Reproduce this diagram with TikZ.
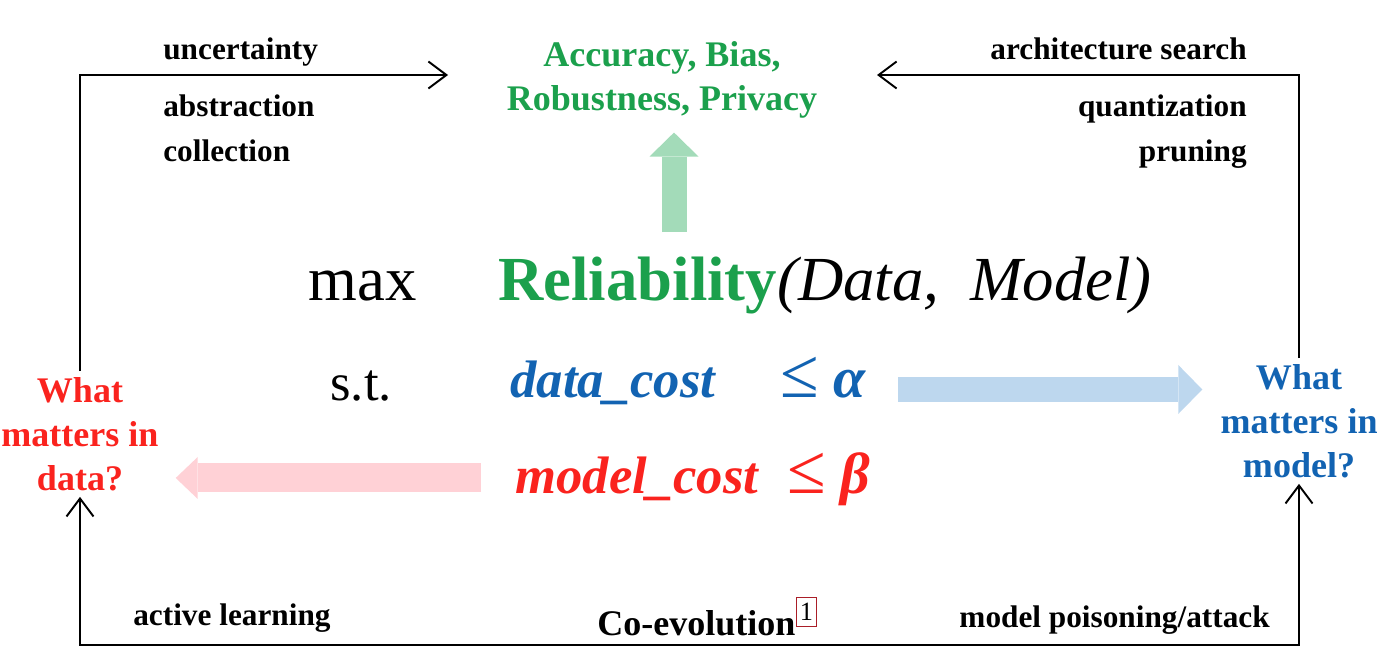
\documentclass[tikz,border=0pt]{standalone}
\usepackage{fontspec}
\setmainfont{Liberation Serif}
\usetikzlibrary{arrows.meta}
\usetikzlibrary{positioning}
\definecolor{relgreen}{RGB}{27,160,76}
\definecolor{costblue}{RGB}{18,99,178}
\definecolor{costred}{RGB}{250,35,30}
\definecolor{upgreen}{HTML}{A3DBB9}
\definecolor{rightblue}{HTML}{BDD7EE}
\definecolor{leftpink}{HTML}{FFD1D6}
\definecolor{refred}{RGB}{170,30,40}
\newcommand{\bigle}{{\fontsize{40}{40}\selectfont\upshape\mdseries ≤}}

\begin{document}
\begin{tikzpicture}[x=0.02cm,y=-0.02cm,
		lbl/.style={font=\fontsize{17.8}{21}\selectfont\bfseries,inner sep=0pt},
		ask/.style={font=\fontsize{20.5}{25}\selectfont\bfseries,align=center},
		obj/.style={font=\fontsize{35.7}{42}\selectfont,inner sep=0pt},
		cost/.style={font=\fontsize{30}{36}\selectfont\bfseries\itshape,inner sep=0pt},
		flow/.style={line width=1.1pt},
		fat/.style={line width=0.5cm,-{Triangle[length=0.48cm,width=0.98cm,line width=0pt]}},
		>={Straight Barb[length=0.36cm,width=0.54cm]}]
	\useasboundingbox (0,0) rectangle (1385,655);
	%% define labels
	\node[lbl,anchor=base west] (unc) at (163,60) {uncertainty};
	\node[lbl,anchor=base west] (abst) at (163,117) {abstraction};
	\node[lbl,anchor=base west] (coll) at (163,162) {collection};
	\node[lbl,anchor=base east] (arch) at (1247,60) {architecture search};
	\node[lbl,anchor=base east] (quant) at (1247,117) {quantization};
	\node[lbl,anchor=base east] (prun) at (1247,162) {pruning};
	\node[lbl,anchor=base west] (actl) at (133,625) {active learning};
	\node[lbl,anchor=base east] (pois) at (1270,627) {model poisoning/attack};
	%% define goal and questions
	\node[ask,text=relgreen] (goal) at (662,80) {Accuracy, Bias,\\Robustness, Privacy};
	\node[ask,text=costred] (dq) at (80,434) {What\\matters in\\data?};
	\node[ask,text=costblue] (mq) at (1299,421) {What\\matters in\\model?};
	%% define objective
	\node[obj,anchor=base west] (max) at (308,300) {max};
	\node[obj,anchor=base west] (rel) at (498,300) {\textcolor{relgreen}{\bfseries Reliability}\itshape(Data,\ \ Model)};
	\node[obj,font=\fontsize{30}{36}\selectfont,anchor=base west] (st) at (330,400) {s.t.};
	\node[cost,text=costblue,anchor=base west] (dc) at (510,397) {data\_cost\hspace{1.3cm}\bigle\hspace{0.3cm}{\fontsize{33}{36}\selectfont α}};
	\node[cost,text=costred,anchor=base west] (mc) at (515,493) {model\_cost\hspace{0.58cm}\bigle\hspace{0.3cm}{\fontsize{33}{36}\selectfont β}};
	\node[font=\fontsize{20.5}{25}\selectfont\bfseries,anchor=base west,inner sep=0pt] (coev) at (597,635) {Co-evolution};
	\node[draw=refred,line width=0.5pt,inner sep=0pt,minimum width=0.4cm,minimum height=0.58cm,
		font=\fontsize{15}{15}\selectfont,anchor=north west] (note) at (796,597) {1};
	%% define ends
	\coordinate (toL) at (448,75);
	\coordinate (toR) at (877,75);
	\coordinate (floor) at (0,645);
	\coordinate (lift) at (674,232);
	%% define arrows
	\draw[->,flow] (dq.north) |- (toL);
	\draw[->,flow] (mq.north) |- (toR);
	\draw[<->,flow] (dq.south) -- (dq.south |- floor) -| (mq.south);
	\draw[fat,draw=upgreen,shorten >=0.16cm] (lift) -- (lift |- goal.south);
	\draw[fat,draw=rightblue,shorten <=0.64cm,shorten >=0.24cm] ([yshift=0.07cm]dc.mid east) -- ([yshift=0.07cm]dc.mid east -| mq.west);
	\draw[fat,draw=leftpink,line width=0.58cm,-{Triangle[length=0.44cm,width=0.84cm,line width=0pt]},
		shorten <=0.68cm,shorten >=0.22cm] ([yshift=0.22cm]mc.mid west) -- ([yshift=0.22cm]mc.mid west -| dq.east);
\end{tikzpicture}
\end{document}
